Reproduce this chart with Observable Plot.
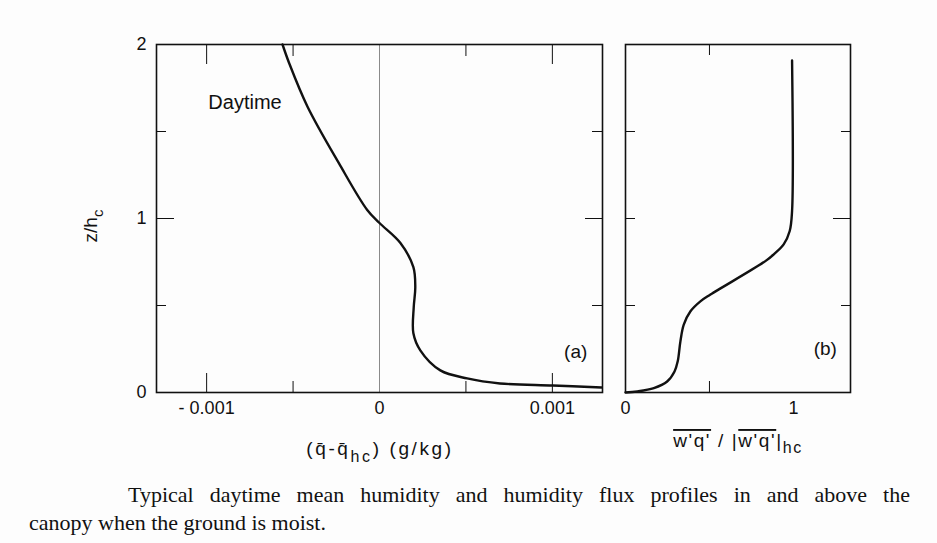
<!DOCTYPE html>
<html><head><meta charset="utf-8">
<script src="https://cdn.jsdelivr.net/npm/d3@7"></script>
<script src="https://cdn.jsdelivr.net/npm/@observablehq/plot@0.6"></script>
<style>
html,body{margin:0;padding:0;background:#fdfdfd;}
#wrap{position:relative;width:937px;height:543px;overflow:hidden;font-family:"Liberation Sans",Arial,sans-serif;}
#pa{position:absolute;left:0;top:0;}
#pb{position:absolute;left:600px;top:0;}
#cap{position:absolute;left:29px;top:481px;width:881px;font-family:"Liberation Serif","Times New Roman",serif;font-size:22px;line-height:28px;color:#111;}
#cap .l1{text-align:justify;text-align-last:justify;padding-left:99px;}
</style></head>
<body><div id="wrap"><div id="pa"></div><div id="pb"></div><div id="cap"></div></div>
<script>
// Panel (a): mean humidity deviation profile
const humidityDev = [-0.000561, -0.000523, -0.000417, -0.000235, -0.000071, 0, 0.000121, 0.000196, 0.000207, 0.000198, 0.000196, 0.000236, 0.000352, 0.000507, 0.000697, 0.001003, 0.001285];
const heightA     = [2.0, 1.894, 1.644, 1.318, 1.049, 0.974, 0.859, 0.72, 0.605, 0.49, 0.34, 0.242, 0.127, 0.081, 0.052, 0.040, 0.029];
// Panel (b): normalized humidity flux profile
const fluxNorm = [0.992, 0.992, 0.978, 0.942, 0.883, 0.833, 0.506, 0.446, 0.387, 0.347, 0.327, 0.311, 0.292, 0.248, 0.169, 0.070, 0];
const heightB  = [1.908, 1.043, 0.928, 0.851, 0.794, 0.755, 0.563, 0.524, 0.467, 0.390, 0.294, 0.179, 0.121, 0.063, 0.025, 0.006, 0];

const yTickValues = [0, 1, 2];
const yTickLabels = ["0", "1", "2"];
const yMajor = [1], yMinor = [0.5, 1.5];
const xTickValuesA = [-0.001, 0, 0.001];
const xTickLabelsA = ["- 0.001", "0", "0.001"];
const xMajorA = [-0.001, 0.001], xMinorA = [-0.0005, 0.0005];
const xTickValuesB = [0, 1];
const xTickLabelsB = ["0", "1"];
const xMinorB = [0.5];
const captionLine1 = "Typical daytime mean humidity and humidity flux profiles in and above the";
const captionLine2 = "canopy when the ground is moist.";

const ink = "#111";
const dataA = humidityDev.map((q, i) => ({q, z: heightA[i]}));
const dataB = fluxNorm.map((f, i) => ({f, z: heightB[i]}));
const fmt = (vals, labels) => d => labels[vals.indexOf(d)] ?? "";
const none = () => "";
const style = {fontFamily: '"Liberation Sans", Arial, sans-serif', fontSize: "18px", background: "transparent", color: ink, overflow: "visible"};

const plotA = Plot.plot({
  width: 610, height: 470, marginLeft: 156, marginRight: 8, marginTop: 44, marginBottom: 78,
  style,
  x: {domain: [-0.00129, 0.00129]},
  y: {domain: [0, 2]},
  marks: [
    Plot.ruleX([0], {stroke: "#8a8a8a", strokeWidth: 1}),
    Plot.axisX(xMajorA, {anchor: "bottom", tickSize: -19, tickFormat: none, label: null, stroke: ink}),
    Plot.axisX(xMinorA, {anchor: "bottom", tickSize: -11, tickFormat: none, label: null, stroke: ink}),
    Plot.axisX(xMajorA, {anchor: "top", tickSize: -19, tickFormat: none, label: null, stroke: ink}),
    Plot.axisX(xMinorA, {anchor: "top", tickSize: -11, tickFormat: none, label: null, stroke: ink}),
    Plot.axisX(xTickValuesA, {anchor: "bottom", tickSize: 0, tickPadding: 9, tickFormat: fmt(xTickValuesA, xTickLabelsA), label: null, fill: ink, fontSize: 18}),
    Plot.axisY(yMajor, {anchor: "left", tickSize: -18, tickFormat: none, label: null, stroke: ink}),
    Plot.axisY(yMinor, {anchor: "left", tickSize: -10, tickFormat: none, label: null, stroke: ink}),
    Plot.axisY(yMajor, {anchor: "right", tickSize: -18, tickFormat: none, label: null, stroke: ink}),
    Plot.axisY(yMinor, {anchor: "right", tickSize: -11, tickFormat: none, label: null, stroke: ink}),
    Plot.axisY(yTickValues, {anchor: "left", tickSize: 0, tickPadding: 10, tickFormat: fmt(yTickValues, yTickLabels), label: null, fill: ink, fontSize: 18}),
    Plot.frame({stroke: ink, strokeWidth: 1.6}),
    Plot.line(dataA, {x: "q", y: "z", curve: "catmull-rom", stroke: ink, strokeWidth: 2.4}),
    Plot.text(["Daytime"], {x: -0.000778, y: 1.666, text: d => d, fontSize: 20, fill: ink}),
    Plot.text(["(a)"], {x: 0.001135, y: 0.236, text: d => d, fontSize: 19, fill: ink})
  ]
});

const plotB = Plot.plot({
  width: 270, height: 470, marginLeft: 25, marginRight: 20, marginTop: 44, marginBottom: 78,
  style,
  x: {domain: [0, 1.34]},
  y: {domain: [0, 2]},
  marks: [
    Plot.axisX(xMinorB, {anchor: "bottom", tickSize: -11, tickFormat: none, label: null, stroke: ink}),
    Plot.axisX(xMinorB, {anchor: "top", tickSize: -10, tickFormat: none, label: null, stroke: ink}),
    Plot.axisX(xTickValuesB, {anchor: "bottom", tickSize: 0, tickPadding: 9, tickFormat: fmt(xTickValuesB, xTickLabelsB), label: null, fill: ink, fontSize: 18}),
    Plot.axisY(yMinor.concat(yMajor), {anchor: "left", tickSize: -10, tickFormat: none, label: null, stroke: ink}),
    Plot.axisY(yMinor, {anchor: "right", tickSize: -10, tickFormat: none, label: null, stroke: ink}),
    Plot.axisY(yMajor, {anchor: "right", tickSize: -18, tickFormat: none, label: null, stroke: ink}),
    Plot.frame({stroke: ink, strokeWidth: 1.6}),
    Plot.line(dataB, {x: "f", y: "z", curve: "catmull-rom", stroke: ink, strokeWidth: 2.4}),
    Plot.text(["(b)"], {x: 1.19, y: 0.248, text: d => d, fontSize: 19, fill: ink})
  ]
});

document.getElementById("pa").appendChild(plotA);
document.getElementById("pb").appendChild(plotB);

// Axis titles with sub/overscripts
const sa = d3.select(plotA);
const yl = sa.append("text").attr("transform", "translate(97,226) rotate(-90)")
  .attr("text-anchor", "middle").attr("font-size", 19).attr("fill", ink);
yl.append("tspan").text("z/h");
yl.append("tspan").attr("font-size", 15).attr("dy", 6).text("c");

const xl = sa.append("text").attr("x", 380).attr("y", 455).attr("text-anchor", "middle")
  .attr("font-size", 19).attr("letter-spacing", 2.6).attr("fill", ink);
xl.append("tspan").text("(q\u0304-q\u0304");
xl.append("tspan").attr("font-size", 16).attr("dy", 7).text("hc");
xl.append("tspan").attr("dy", -7).text(") (g/kg)");

const sb = d3.select(plotB);
const xb = sb.append("text").attr("x", 138).attr("y", 447).attr("text-anchor", "middle")
  .attr("font-size", 19).attr("letter-spacing", 1.6).attr("fill", ink);
xb.append("tspan").attr("text-decoration", "overline").text("w'q'");
xb.append("tspan").text(" / |");
xb.append("tspan").attr("text-decoration", "overline").text("w'q'");
xb.append("tspan").text("|");
xb.append("tspan").attr("font-size", 16).attr("dy", 6).text("hc");

const cap = document.getElementById("cap");
const l1 = document.createElement("div"); l1.className = "l1"; l1.textContent = captionLine1;
const l2 = document.createElement("div"); l2.textContent = captionLine2;
cap.appendChild(l1); cap.appendChild(l2);
</script>
</body></html>
